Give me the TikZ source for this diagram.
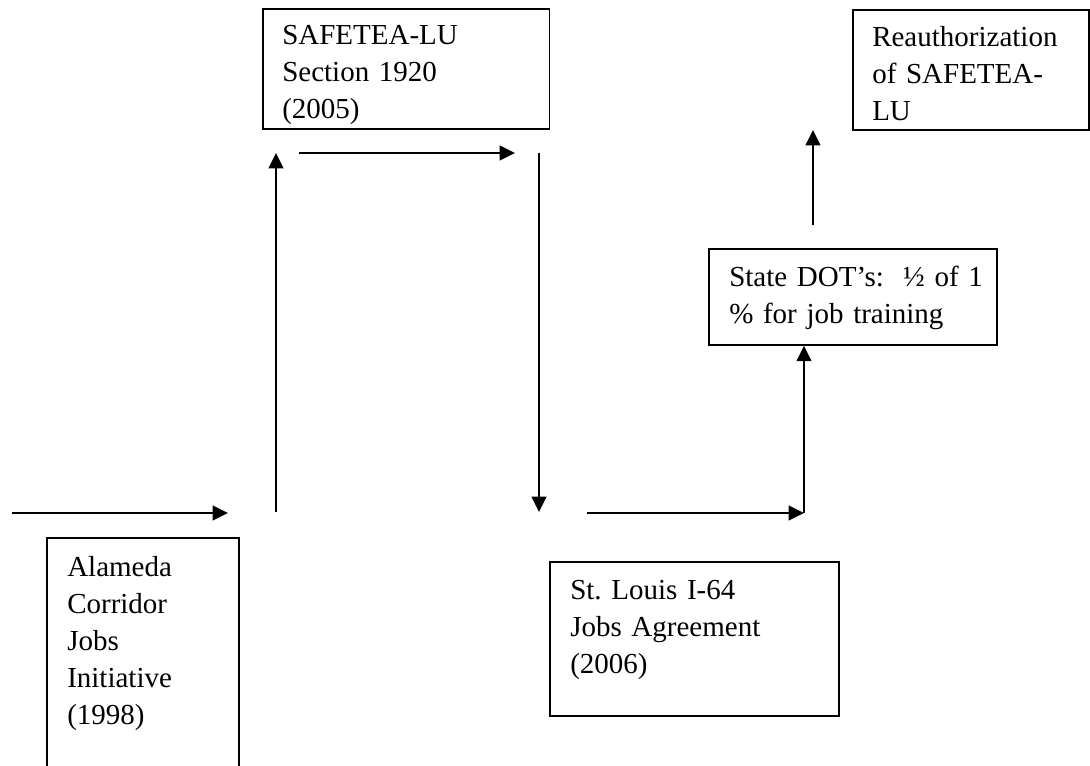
\documentclass[tikz,border=0pt]{standalone}
\usepackage{fontspec}
\setmainfont{Liberation Serif}
\usetikzlibrary{arrows.meta}
\frenchspacing

\begin{document}
\begin{tikzpicture}[x=0.75pt, y=0.75pt,
  every node/.style = {font=\fontsize{21.75}{27.75}\selectfont},
  box/.style = {draw, line width=1.3pt, anchor=north west, inner sep=0pt},
  txt/.style = {anchor=base west, inner sep=0pt, text width=215pt, align=left},
  flow/.style = {line width=1.3pt, -{Triangle[length=11.5pt, width=11pt]}},
  ]
  \useasboundingbox (0,0) rectangle (1090,766);

  % boxes
  \node[box, minimum width=215pt, minimum height=90pt] (safetea) at (262,758) {};
  \node[box, minimum width=177pt, minimum height=90pt] (reauth) at (852,757) {};
  \node[box, minimum width=216pt, minimum height=72pt] (dots) at (708,518) {};
  \node[box, minimum width=144pt, minimum height=195pt] (alameda) at (46,229) {};
  \node[box, minimum width=217pt, minimum height=115.5pt] (stlouis) at (549,205) {};

  % texts
  \node[txt] (safetea text) at ([shift={(20,-37)}]safetea.north west)
    {SAFETEA-LU\\Section 1920\\(2005)};
  \node[txt] (reauth text) at ([shift={(20,-38)}]reauth.north west)
    {Reauthorization\\of SAFETEA-\\LU};
  \node[txt] (dots text) at ([shift={(21,-39)}]dots.north west)
    {State DOT’s:\ \ ½ of 1\\\% for job training};
  \node[txt] (alameda text) at ([shift={(21,-40)}]alameda.north west)
    {Alameda\\Corridor\\Jobs\\Initiative\\(1998)};
  \node[txt] (stlouis text) at ([shift={(21,-39)}]stlouis.north west)
    {St. Louis I-64\\Jobs Agreement\\(2006)};

  % arrow ends
  \coordinate (start) at (12,253);
  \coordinate (in1) at (228,253);
  \coordinate (up1) at (276,254);
  \coordinate (top1) at (276,613);
  \coordinate (over1) at (299,613);
  \coordinate (over2) at (515,613);
  \coordinate (down1) at (539,613);
  \coordinate (down2) at (539,254);
  \coordinate (out1) at (587,253);
  \coordinate (turn) at (804,253);
  \coordinate (up2) at (813,541);
  \coordinate (top2) at (813,636);

  % arrows
  \draw[flow] (start) -- (in1);
  \draw[flow] (up1) -- (top1);
  \draw[flow] (over1) -- (over2);
  \draw[flow] (down1) -- (down2);
  \draw[flow] (out1) -- (turn);
  \draw[flow] (turn) -- (turn |- dots.south);
  \draw[flow] (up2) -- (top2);
\end{tikzpicture}
\end{document}
